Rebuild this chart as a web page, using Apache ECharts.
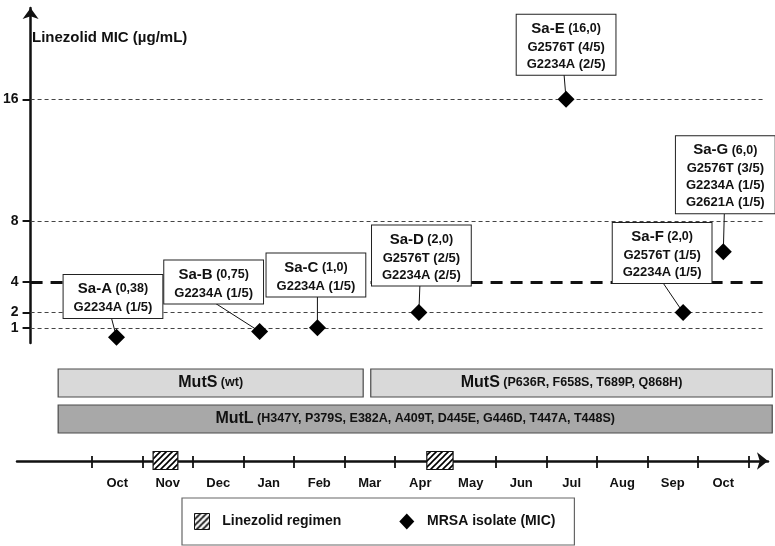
<!DOCTYPE html>
<html><head><meta charset="utf-8">
<script src="https://cdn.jsdelivr.net/npm/echarts@6/dist/echarts.min.js"></script>
<style>html,body{margin:0;padding:0;background:#fff}#c{width:775px;height:546px}</style>
</head><body><div id="c"></div>
<script>
// ---------- data ----------
const isolateNames = ['Sa-A','Sa-B','Sa-C','Sa-D','Sa-E','Sa-F','Sa-G'];
const isolateMonths = [0.42, 3.27, 4.42, 6.44, 9.37, 11.70, 12.50]; // months after start of first Oct
const isolateMIC = [0.38, 0.75, 1.0, 2.0, 16.0, 2.0, 6.0];
const isolateMutations = [
  ['G2234A (1/5)'],
  ['G2234A (1/5)'],
  ['G2234A (1/5)'],
  ['G2576T (2/5)','G2234A (2/5)'],
  ['G2576T (4/5)','G2234A (2/5)'],
  ['G2576T (1/5)','G2234A (1/5)'],
  ['G2576T (3/5)','G2234A (1/5)','G2621A (1/5)']
];
const micTicks = [1, 2, 4, 8, 16];
const breakpointMIC = 4;
const monthLabels = ['Oct','Nov','Dec','Jan','Feb','Mar','Apr','May','Jun','Jul','Aug','Sep','Oct'];
const monthTicks = [0,1,2,3,4,5,6,7,8,9,10,11,12,13];
const monthCenters = [0.5,1.5,2.5,3.5,4.5,5.5,6.5,7.5,8.5,9.5,10.5,11.5,12.5];
const regimenStart = [1.21, 6.63];
const regimenEnd = [1.70, 7.15];
const mutRows = ['MutS','MutL'];
const mutGene = ['MutS','MutS','MutL'];
const mutDetail = ['(wt)','(P636R, F658S, T689P, Q868H)','(H347Y, P379S, E382A, A409T, D445E, G446D, T447A, T448S)'];
const mutStart = [-0.67, 5.52, -0.67];
const mutEnd = [5.37, 13.47, 13.47];

// ---------- layout (annotation placement, pixels) ----------
const boxOffset = [[-3.5,-40.7],[-46,-49.6],[-1.5,-52.75],[2.5,-57],[0,-54.5],[-21,-59.5],[2,-77]];
const leaderDx = [-5,-44,0,1,-2,-20,1];

const FONT = '"Liberation Sans", Arial, Helvetica, sans-serif';
const INK = '#111';

function hatchCanvas(){
  const c = document.createElement('canvas'); c.width = 6; c.height = 6;
  const g = c.getContext('2d');
  g.fillStyle = '#fff'; g.fillRect(0,0,6,6);
  g.strokeStyle = '#000'; g.lineWidth = 1.6;
  g.beginPath();
  g.moveTo(-1,7); g.lineTo(7,-1);
  g.moveTo(-1,1); g.lineTo(1,-1);
  g.moveTo(5,7); g.lineTo(7,5);
  g.stroke();
  return c;
}
const hatch = {image: hatchCanvas(), repeat: 'repeat'};

function micText(v){ return (v < 1 ? v.toFixed(2) : v.toFixed(1)).replace('.', ','); }
function boxHeight(i){ return 6 + 20 + 17 * isolateMutations[i].length; }

const isolateData = isolateMonths.map((m,i)=>({
  value:[m, isolateMIC[i], i],
  label:{offset: boxOffset[i]}
}));

const chart = echarts.init(document.getElementById('c'), null, {renderer:'canvas'});
chart.setOption({
  animation:false,
  backgroundColor:'#fff',
  textStyle:{fontFamily:FONT},
  title:{text:'Linezolid MIC (µg/mL)', left:32, top:30, padding:0,
    textStyle:{fontSize:15, fontWeight:'bold', color:INK, fontFamily:FONT}},
  legend:{
    left:182, top:498, orient:'horizontal', padding:[15,19,15,12],
    itemWidth:15, itemHeight:16, itemGap:58,
    borderColor:'#666', borderWidth:1.2, selectedMode:false,
    textStyle:{fontSize:14, fontWeight:'bold', color:INK, fontFamily:FONT},
    formatter: n => '  ' + n,
    data:[
      {name:'Linezolid regimen', icon:'rect', itemStyle:{color:hatch, borderColor:INK, borderWidth:1, opacity:1}},
      {name:'MRSA isolate (MIC)', icon:'diamond', itemStyle:{color:'#000', opacity:1}}
    ]
  },
  grid:[
    {left:27, top:8, width:736, height:335},
    {left:17, top:460, width:751, height:1},
    {left:17, top:365, width:751, height:72}
  ],
  xAxis:[
    {gridIndex:0, type:'value', min:-1.29, max:13.29, show:false},
    {gridIndex:1, type:'value', min:-1.485, max:13.386, position:'bottom',
      axisLine:{show:true, onZero:false, symbol:['none','arrow'], symbolSize:[13,11], lineStyle:{color:INK, width:2.5}},
      axisTick:{show:true, customValues:monthTicks, length:7, lineStyle:{color:INK, width:1.8}},
      axisLabel:{show:true, customValues:monthCenters, margin:16, fontSize:13, fontWeight:'bold', color:INK, fontFamily:FONT,
        formatter: v => monthLabels[Math.floor(v)]},
      splitLine:{show:false}},
    {gridIndex:1, type:'value', min:-1.485, max:13.386, position:'top',
      axisLine:{show:false},
      axisTick:{show:true, customValues:monthTicks, length:5, lineStyle:{color:INK, width:1.8}},
      axisLabel:{show:false}, splitLine:{show:false}},
    {gridIndex:2, type:'value', min:-1.485, max:13.386, show:false}
  ],
  yAxis:[
    {gridIndex:0, type:'value', min:0, max:22,
      axisLine:{show:true, onZero:false, symbol:['none','arrow'], symbolSize:[12,11], lineStyle:{color:INK, width:2.5}},
      axisTick:{show:true, customValues:micTicks, length:8, lineStyle:{color:INK, width:2}},
      axisLabel:{show:true, customValues:micTicks, margin:12, fontSize:14, fontWeight:'bold', color:INK, fontFamily:FONT},
      splitLine:{show:false}},
    {gridIndex:1, type:'value', min:0, max:1, show:false},
    {gridIndex:2, type:'category', data:mutRows, inverse:true, show:false}
  ],
  series:[
    { // reference MIC lines
      type:'scatter', xAxisIndex:0, yAxisIndex:0, data:[], z:1, silent:true,
      markLine:{z:1, symbol:'none', silent:true, animation:false, label:{show:false},
        data: micTicks.filter(v=>v!==breakpointMIC).map(v=>({yAxis:v, lineStyle:{type:[4,3], width:1, color:'#444', opacity:1}}))
          .concat([{yAxis:breakpointMIC, lineStyle:{type:[12,8], width:3, color:INK, opacity:1}}])}
    },
    { // leader lines
      type:'custom', xAxisIndex:0, yAxisIndex:0, z:2, silent:true,
      data: isolateMonths.map((m,i)=>[m, isolateMIC[i], i]),
      renderItem:(params, api)=>{
        const p = api.coord([api.value(0), api.value(1)]);
        const i = api.value(2);
        const ey = boxOffset[i][1] + boxHeight(i)/2;
        return {type:'line', shape:{x1:p[0], y1:p[1], x2:p[0]+leaderDx[i], y2:p[1]+ey},
          style:{stroke:INK, lineWidth:1}};
      }
    },
    {
      name:'MRSA isolate (MIC)', type:'scatter', xAxisIndex:0, yAxisIndex:0, z:6, silent:true,
      symbol:'diamond', symbolSize:17, itemStyle:{color:'#000', opacity:1},
      data: isolateData,
      label:{show:true, position:'inside', backgroundColor:'#fff', borderColor:'#222', borderWidth:1,
        padding:[4,10,2,10], color:INK, opacity:1, fontFamily:FONT, align:'center',
        formatter: p => {
          const i = p.value[2];
          return '{t|' + isolateNames[i] + '}{s| (' + micText(isolateMIC[i]) + ')}\n' +
            isolateMutations[i].map(s => '{m|' + s + '}').join('\n');
        },
        rich:{
          t:{fontSize:15, fontWeight:'bold', lineHeight:20, color:INK, fontFamily:FONT},
          s:{fontSize:12.5, fontWeight:'bold', lineHeight:20, color:INK, fontFamily:FONT},
          m:{fontSize:13, fontWeight:'bold', lineHeight:17, color:INK, fontFamily:FONT}
        }
      }
    },
    {
      name:'Linezolid regimen', type:'custom', xAxisIndex:1, yAxisIndex:1, z:4, silent:true,
      itemStyle:{color:hatch, borderColor:INK},
      data: regimenStart.map((s,i)=>[s, regimenEnd[i]]),
      renderItem:(params, api)=>{
        const a = api.coord([api.value(0), 0.5]);
        const b = api.coord([api.value(1), 0.5]);
        return {type:'rect', shape:{x:a[0], y:a[1]-9, width:b[0]-a[0], height:18},
          style:{fill:hatch, stroke:INK, lineWidth:1.2}};
      }
    },
    {
      type:'custom', xAxisIndex:3, yAxisIndex:2, z:2, silent:true,
      data: mutStart.map((s,i)=>[s, mutEnd[i], mutRows.indexOf(mutGene[i]), i]),
      renderItem:(params, api)=>{
        const row = api.value(2), i = api.value(3);
        const a = api.coord([api.value(0), row]);
        const b = api.coord([api.value(1), row]);
        return {type:'rect', shape:{x:a[0], y:a[1]-14, width:b[0]-a[0], height:28},
          style:{fill: row === 0 ? '#d9d9d9' : '#a8a8a8', stroke:'#4a4a4a', lineWidth:1.2},
          textContent:{type:'text', style:{
            text:'{g|' + mutGene[i] + '}{d| ' + mutDetail[i] + '}',
            rich:{
              g:{fontSize:16, fontWeight:'bold', fill:INK, fontFamily:FONT},
              d:{fontSize:12.5, fontWeight:'bold', fill:INK, fontFamily:FONT}
            }}},
          textConfig:{position:'inside'}};
      }
    }
  ]
});
</script></body></html>
